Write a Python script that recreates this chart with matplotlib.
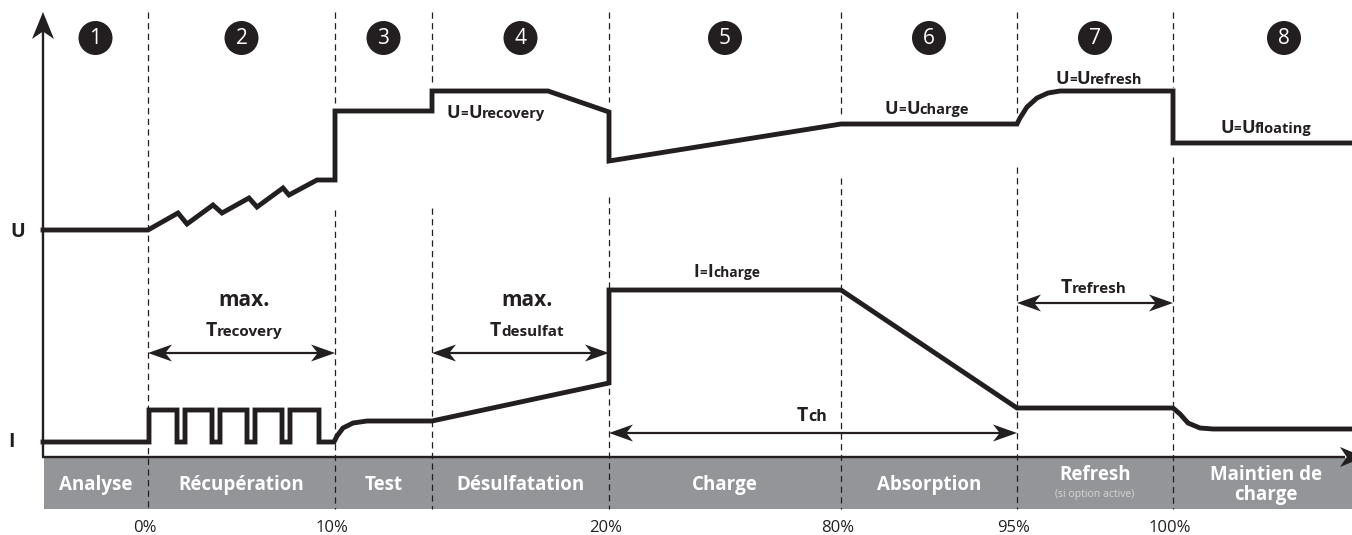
import numpy as np
import matplotlib.pyplot as plt
from matplotlib.patches import Circle, Rectangle, Polygon
from matplotlib.offsetbox import TextArea, HPacker, AnnotationBbox

plt.rcParams['font.family'] = ['Open Sans', 'DejaVu Sans']

ink = '#231f20'
band_grey = '#939598'

# phase boundaries (px along the time axis) and their percent labels
bounds = [148, 335, 432, 609, 841, 1017, 1173]
bound_pct = ['0%', '10%', '', '20%', '80%', '95%', '100%']
# where the dashed guide lines are interrupted by the U curve
gap_top = [None, 103, 82, 102, 118, 113, 87]
gap_bot = [None, 210, 208, 197, 178, 167, 157]

phases = ['Analyse', 'Récupération', 'Test', 'Désulfatation', 'Charge',
          'Absorption', 'Refresh', 'Maintien de\ncharge']
steps = ['1', '2', '3', '4', '5', '6', '7', '8']

# voltage curve U (x, y in picture px)
u_x = [43, 148, 178, 187, 213, 222, 249, 257, 283, 289, 317, 335, 335, 432, 432,
       548, 609, 609, 841, 1017, 1020, 1027, 1037, 1048, 1060, 1173, 1173, 1352]
u_y = [230, 230, 213, 224, 205, 213, 198, 207, 188, 195, 180, 180, 111, 111, 91,
       91, 112, 161, 124, 124, 118, 107, 98, 93, 91, 91, 143, 143]

# current curve I
i_x = [43, 149, 149, 177, 177, 185, 185, 212, 212, 220, 220, 247, 247, 255, 255,
       282, 282, 290, 290, 319, 319, 334, 337, 343, 353, 367, 432, 609, 609,
       841, 1017, 1173, 1180, 1188, 1200, 1213, 1352]
i_y = [442, 442, 410, 410, 442, 442, 410, 410, 442, 442, 410, 410, 442, 442, 410,
       410, 442, 442, 410, 410, 442, 442, 436, 428, 423, 421, 421, 383, 290,
       290, 408, 408, 414, 423, 428, 429, 429]

# duration arrows: (start, end, height)
spans = [(148, 335, 353), (432, 609, 353), (609, 1017, 433), (1017, 1173, 303)]


def stealth(ax, tip, d, length=24, width=17):
    d = np.asarray(d, float)
    d = d / np.hypot(*d)
    p = np.array([-d[1], d[0]])
    tip = np.asarray(tip, float)
    base = tip - d * length
    pts = [tip, base + p * width / 2, tip - d * length * 0.72, base - p * width / 2]
    ax.add_patch(Polygon(pts, closed=True, color=ink, lw=0, zorder=6))


def mixed(ax, x, y, parts, ha=0.5):
    boxes = [TextArea(s, textprops=dict(fontsize=fs, fontweight=fw, color=ink))
             for s, fs, fw in parts]
    pack = HPacker(children=boxes, align='baseline', pad=0, sep=0)
    ab = AnnotationBbox(pack, (x, y), xycoords='data', frameon=False,
                        box_alignment=(ha, 0.5), pad=0)
    ax.add_artist(ab)


fig = plt.figure(figsize=(13.52, 5.35), dpi=100)
ax = fig.add_axes([0, 0, 1, 1])
ax.set_xlim(0, 1352)
ax.set_ylim(535, 0)
ax.axis('off')

# grey phase band
ax.add_patch(Rectangle((44, 458), 1352 - 44, 51, color=band_grey, lw=0, zorder=1))

# dashed guides
for k, xb in enumerate(bounds):
    if gap_top[k] is None:
        segs = [(12, 509)]
    else:
        segs = [(12, gap_top[k]), (gap_bot[k], 509)]
    for a, b in segs:
        ax.plot([xb, xb], [a, b], color=ink, lw=0.9, ls=(0, (5, 3.5)), zorder=3)
    ax.text(xb - 3, 528, bound_pct[k], fontsize=12, color=ink, ha='center', va='center')

# axes with arrows
ax.plot([43, 43], [457, 30], color=ink, lw=1.7, zorder=5, solid_capstyle='butt')
stealth(ax, (43, 12), (0, -1), length=27, width=22)
ax.plot([42.4, 1345], [457, 457], color=ink, lw=1.7, zorder=5, solid_capstyle='butt')
stealth(ax, (1364, 457), (1, 0), length=24, width=20)

# curves
ax.plot(u_x, u_y, color=ink, lw=3.5, zorder=4, solid_joinstyle='miter')
ax.plot(i_x, i_y, color=ink, lw=3.5, zorder=4, solid_joinstyle='miter')

ax.text(18, 232, 'U', fontsize=14, fontweight='bold', color=ink, ha='center', va='center')
ax.text(12, 442, 'I', fontsize=14, fontweight='bold', color=ink, ha='center', va='center')

# step numbers and phase names
mids = [(a + b) / 2 for a, b in zip([43] + bounds, bounds + [1352])]
circ_x = mids[:-1] + [1284]
for k in range(len(steps)):
    ax.add_patch(Circle((circ_x[k], 38), 17, color=ink, lw=0, zorder=5))
    ax.text(circ_x[k], 39, steps[k], fontsize=15, color='white', ha='center',
            va='center', zorder=6)
    name_x = mids[k] if k < 7 else 1266
    if phases[k] == 'Refresh':
        ax.text(name_x, 475, phases[k], fontsize=13.5, fontweight='bold', color='white',
                ha='center', va='center', zorder=6)
        ax.text(name_x, 494, '(si option active)', fontsize=7.5, color='#d6d6d6',
                ha='center', va='center', zorder=6)
    else:
        ax.text(name_x, 485, phases[k], fontsize=13.5, fontweight='bold', color='white',
                ha='center', va='center', zorder=6, linespacing=1.05)

# duration arrows
for a, b, h in spans:
    ax.plot([a + 10, b - 10], [h, h], color=ink, lw=1.6, zorder=5)
    stealth(ax, (a, h), (-1, 0))
    stealth(ax, (b, h), (1, 0))

ax.text(244, 301, 'max.', fontsize=15, fontweight='bold', color=ink, ha='center', va='center')
ax.text(527, 301, 'max.', fontsize=15, fontweight='bold', color=ink, ha='center', va='center')
mixed(ax, 244, 331, [('T', 14, 'bold'), ('recovery', 11, 'bold')])
mixed(ax, 527, 331, [('T', 14, 'bold'), ('desulfat', 11, 'bold')])
mixed(ax, 812, 416, [('T', 14, 'bold'), ('ch', 11.5, 'bold')])
mixed(ax, 1094, 288, [('T', 14, 'bold'), ('refresh', 11, 'bold')])
mixed(ax, 727, 272, [('I', 12.5, 'bold'), ('=', 9.5, 'bold'), ('I', 12.5, 'bold'),
                     ('charge', 10, 'bold')])

u_labels = [(496, 113, 'recovery'), (927, 109, 'charge'), (1099, 79, 'refresh'),
            (1266, 128, 'floating')]
for x, y, sub in u_labels:
    mixed(ax, x, y, [('U', 13, 'bold'), ('=', 9.5, 'bold'), ('U', 13, 'bold'),
                     (sub, 10.5, 'bold')])

fig.savefig('out.png', dpi=100)
